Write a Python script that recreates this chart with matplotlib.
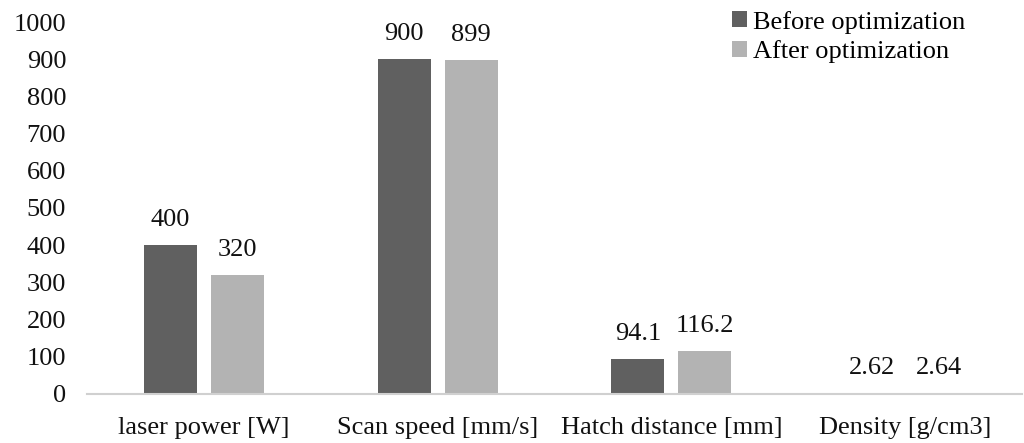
import matplotlib.pyplot as plt
import numpy as np

plt.rcParams['font.family'] = ['Liberation Serif', 'DejaVu Serif']

# data to plot
categories = ['laser power [W]', 'Scan speed [mm/s]', 'Hatch distance [mm]', 'Density [g/cm3]']
before = [400, 900, 94.1, 2.62]
after = [320, 899, 116.2, 2.64]
before_labels = ['400', '900', '94.1', '2.62']
after_labels = ['320', '899', '116.2', '2.64']

fig = plt.figure(figsize=(10.24, 4.43), dpi=100)
ax = fig.add_axes([0.085, 0.111, 0.913, 0.839])

index = np.arange(len(categories))
width = 0.227
off = 0.143
b1 = ax.bar(index - off, before, width, color='#606060', label='Before optimization')
b2 = ax.bar(index + off, after, width, color='#b3b3b3', label='After optimization')

for bars, labs in ((b1, before_labels), (b2, after_labels)):
    for b, t in zip(bars, labs):
        ax.text(b.get_x() + b.get_width() / 2, b.get_height() + 38, t,
                ha='center', va='bottom', fontsize=19, color='#111111', clip_on=False)

ax.set_xlim(-0.5, len(categories) - 0.5)
ax.set_ylim(0, 1000)
ax.set_yticks(np.arange(0, 1001, 100))
ax.set_xticks(index)
ax.set_xticklabels(categories)
ax.tick_params(axis='both', length=0, labelsize=19, colors='#111111')
ax.tick_params(axis='x', pad=17)
ax.tick_params(axis='y', pad=15)
for s in ('top', 'right', 'left'):
    ax.spines[s].set_visible(False)
ax.spines['bottom'].set_color('#d0d0d0')
ax.spines['bottom'].set_linewidth(1.5)

leg = ax.legend(loc='upper right', bbox_to_anchor=(0.965, 1.095), frameon=False, fontsize=19,
                handlelength=0.55, handleheight=0.55, handletextpad=0.25, labelspacing=0.25)

fig.savefig('out.png', dpi=100)
